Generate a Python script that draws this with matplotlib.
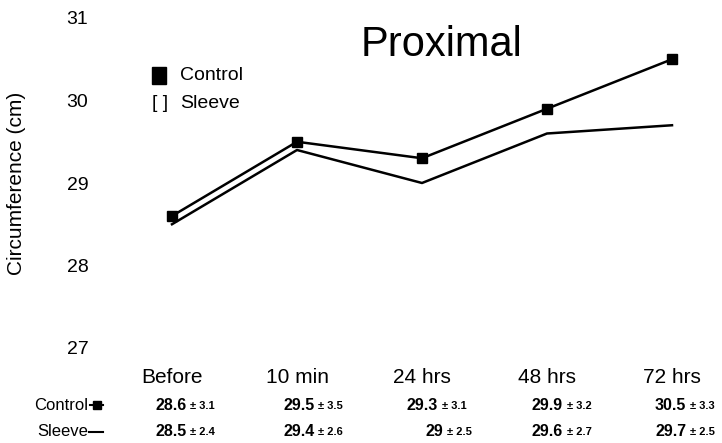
import matplotlib.pyplot as plt
from matplotlib.patches import Rectangle
from matplotlib.lines import Line2D

plt.rcParams['font.family'] = ['Liberation Sans', 'DejaVu Sans']

categories = ['Before', '10 min', '24 hrs', '48 hrs', '72 hrs']
control = [28.6, 29.5, 29.3, 29.9, 30.5]
control_sd = [3.1, 3.5, 3.1, 3.2, 3.3]
sleeve = [28.5, 29.4, 29.0, 29.6, 29.7]
sleeve_sd = [2.4, 2.6, 2.5, 2.7, 2.5]
y_ticks = [27, 28, 29, 30, 31]

W, H = 722, 443
fig = plt.figure(figsize=(W / 100, H / 100), dpi=100)


def fx(px):
    return px / W


def fy(py):
    return 1 - py / H


# axes spans pixel x 130..710, y 10..360 (from top)
ax = fig.add_axes([fx(130), fy(360), 580 / W, 350 / H])
ax.set_xlim(-42 / 125, 4 + 38 / 125)
ax.set_ylim(27 - 12 / 82.5, 31 + 8 / 82.5)

x = list(range(len(categories)))
ax.plot(x, control, color='black', lw=1.8, marker='s', ms=7)
ax.plot(x, sleeve, color='black', lw=1.8)

for s in ax.spines.values():
    s.set_visible(False)
ax.set_yticks(y_ticks)
ax.set_yticklabels([str(v) for v in y_ticks], fontsize=14)
ax.set_xticks(x)
ax.set_xticklabels(categories, fontsize=15)
ax.tick_params(axis='y', length=0, pad=30)
ax.tick_params(axis='x', length=0, pad=6)

fig.text(fx(17), fy(183), 'Circumference (cm)', fontsize=15, rotation=90,
         ha='center', va='center')
fig.text(fx(442), fy(45), 'Proximal', fontsize=30, ha='center', va='center')

# legend
fig.patches.append(Rectangle((fx(152), fy(84)), 14 / W, 17 / H, color='black',
                             transform=fig.transFigure, figure=fig))
fig.text(fx(180), fy(75), 'Control', fontsize=14, ha='left', va='center')
fig.text(fx(152), fy(103), '[ ]', fontsize=14, ha='left', va='center')
fig.text(fx(180), fy(103), 'Sleeve', fontsize=14, ha='left', va='center')

# value table under the categories
renderer = fig.canvas.get_renderer()
starts = [155, 283, 407, 532, 655]
rows = [(405, 'Control', control, control_sd), (431, 'Sleeve', sleeve, sleeve_sd)]
for yp, name, vals, sds in rows:
    fig.text(fx(88), fy(yp), name, fontsize=12, ha='right', va='center')
    for i, (v, sd) in enumerate(zip(vals, sds)):
        xs = starts[i]
        lab = '{:g}'.format(v)
        if lab == '29':
            xs += 18
        t = fig.text(fx(xs), fy(yp), lab, fontsize=11.5, fontweight='bold',
                     ha='left', va='center')
        bb = t.get_window_extent(renderer)
        fig.text(fx(bb.x1 + 4), fy(yp + 1), '\u00B1 ' + str(sd), fontsize=8,
                 fontweight='bold', ha='left', va='center')
# row symbols
fig.add_artist(Line2D([fx(90), fx(103)], [fy(405), fy(405)], color='black', lw=1.5))
fig.add_artist(Line2D([fx(96.5)], [fy(405)], color='black', marker='s', ms=6))
fig.add_artist(Line2D([fx(89), fx(103)], [fy(432), fy(432)], color='black', lw=1.5))

fig.savefig('out.png', dpi=100)
